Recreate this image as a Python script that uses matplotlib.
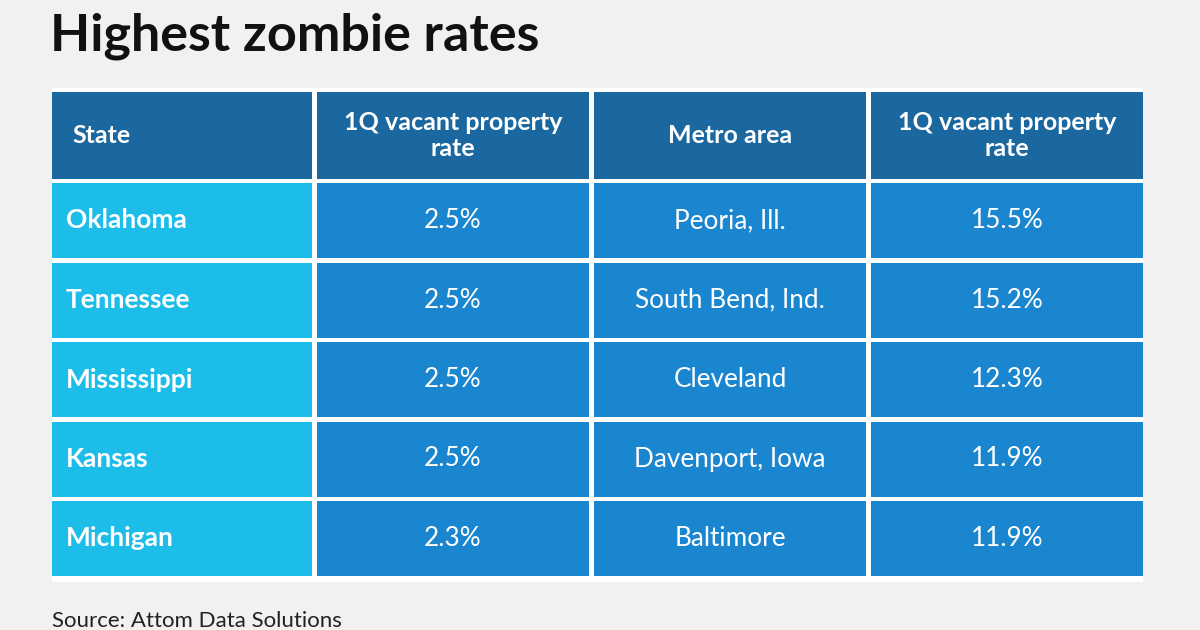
import matplotlib.pyplot as plt
from matplotlib.patches import Rectangle

plt.rcParams['font.family'] = ['Lato', 'DejaVu Sans']

# data
title = 'Highest zombie rates'
headers = ['State', '1Q vacant property\nrate', 'Metro area', '1Q vacant property\nrate']
states = ['Oklahoma', 'Tennessee', 'Mississippi', 'Kansas', 'Michigan']
state_rates = ['2.5%', '2.5%', '2.5%', '2.5%', '2.3%']
metros = ['Peoria, Ill.', 'South Bend, Ind.', 'Cleveland', 'Davenport, Iowa', 'Baltimore']
metro_rates = ['15.5%', '15.2%', '12.3%', '11.9%', '11.9%']
source = 'Source: Attom Data Solutions'

# layout (pixels)
bg = '#F0F1F0'
c_head = '#1B679F'
c_state = '#1DBDEA'
c_body = '#1B86D0'
col_x = [(52, 312), (317, 589), (594, 866), (871, 1143)]
head_y = (92, 179)
row_top = 183
row_h = 75
row_gap = 4.5

fig = plt.figure(figsize=(12, 6.3), dpi=100, facecolor=bg)
ax = fig.add_axes([0, 0, 1, 1])
ax.set_xlim(0, 1200)
ax.set_ylim(630, 0)
ax.axis('off')

ax.text(50, 36, title, fontsize=37.5, fontweight='bold',
        color='#111111', va='center', ha='left')

# white backing
ax.add_patch(Rectangle((52, 88), 1143 - 52, 582 - 88, color='white', lw=0))

# header
for i, (x0, x1) in enumerate(col_x):
    ax.add_patch(Rectangle((x0, head_y[0]), x1 - x0, head_y[1] - head_y[0], color=c_head, lw=0))
    yc = (head_y[0] + head_y[1]) / 2
    if i == 0:
        ax.text(72, yc, headers[i], color='white', fontsize=18, fontweight='bold',
                ha='left', va='center')
    else:
        ax.text((x0 + x1) / 2, yc, headers[i], color='white', fontsize=18, fontweight='bold',
                ha='center', va='center', linespacing=1.2)

# body rows
columns = [states, state_rates, metros, metro_rates]
for r in range(len(states)):
    y0 = row_top + r * (row_h + row_gap)
    yc = y0 + row_h / 2
    for i, (x0, x1) in enumerate(col_x):
        color = c_state if i == 0 else c_body
        ax.add_patch(Rectangle((x0, y0), x1 - x0, row_h, color=color, lw=0))
        if i == 0:
            ax.text(66, yc, columns[i][r], color='white', fontsize=19, fontweight='bold',
                    ha='left', va='center')
        else:
            ax.text((x0 + x1) / 2, yc, columns[i][r], color='white', fontsize=18.8,
                    ha='center', va='center')

ax.text(52, 621, source, color='#222222', fontsize=16, ha='left', va='center')

fig.savefig('out.png', dpi=100, facecolor=bg)
